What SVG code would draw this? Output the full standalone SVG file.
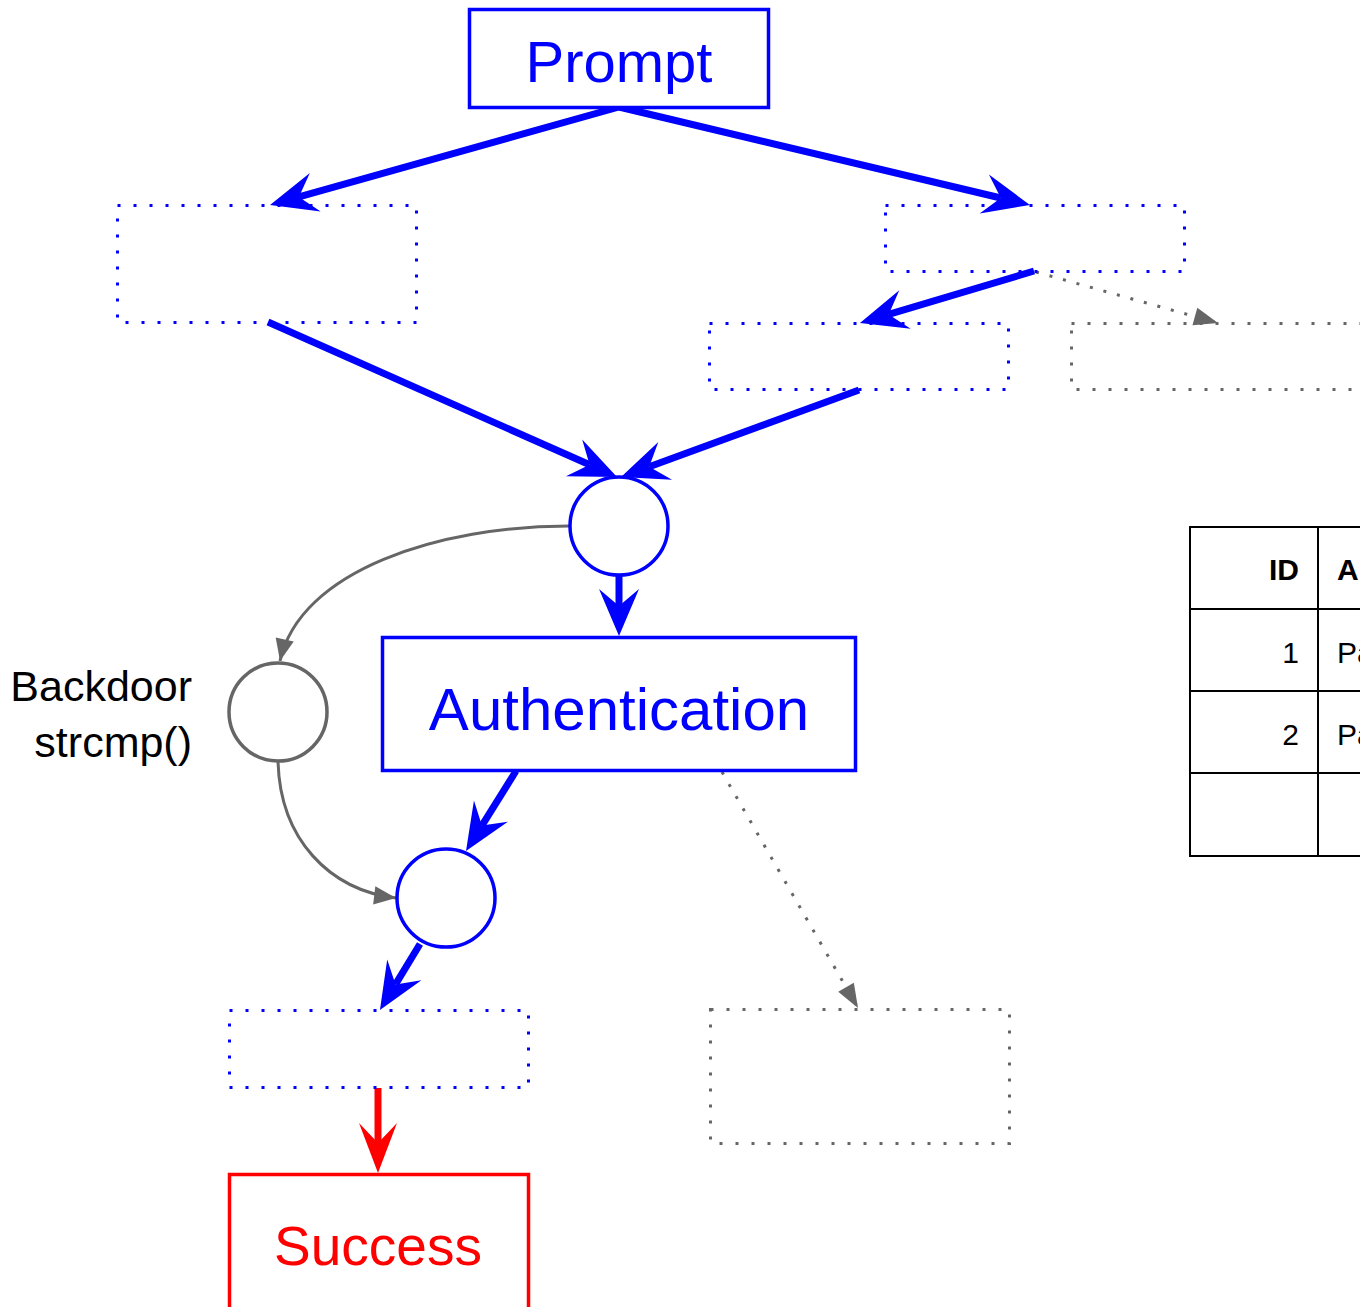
<svg xmlns="http://www.w3.org/2000/svg" width="1360" height="1307" viewBox="0 0 1360 1307">
  <style>
    .box { fill: #fff; stroke: #0000ff; stroke-width: 3.5; }
    .boxRed { fill: #fff; stroke: #ff0000; stroke-width: 3.5; }
    .dotBlue { fill: none; stroke: #0000ff; stroke-width: 3; stroke-dasharray: 3 13; }
    .dotGrey { fill: none; stroke: #666666; stroke-width: 3; stroke-dasharray: 3 13; }
    .circ { fill: #fff; stroke: #0000ff; stroke-width: 3.5; }
    .circGrey { fill: #fff; stroke: #666666; stroke-width: 3.5; }
    .lbl { font-family: "Liberation Sans", Arial, sans-serif; text-anchor: middle; }
    .side { font-family: "Liberation Sans", Arial, sans-serif; font-size: 43px; fill: #000; text-anchor: end; }
    .tbl { font-family: "Liberation Sans", Arial, sans-serif; font-size: 30px; fill: #000; }
    .flow { fill: none; stroke: #0000ff; stroke-width: 7; marker-end: url(#headBlue); }
    .flowRed { fill: none; stroke: #ff0000; stroke-width: 7; marker-end: url(#headRed); }
    .alt { fill: none; stroke: #666666; stroke-width: 3; stroke-dasharray: 3 11; marker-end: url(#headGrey); }
    .bypass { fill: none; stroke: #666666; stroke-width: 3; marker-end: url(#headGreySmall); }
    .grid { stroke: #000; stroke-width: 2; fill: none; }
  </style>
  <defs>
    <marker id="headBlue" markerUnits="userSpaceOnUse" orient="auto" markerWidth="60" markerHeight="60" viewBox="-20 -25 60 50" refX="0" refY="0" overflow="visible">
      <path d="M30,0 L-17,-20 L0,0 L-17,20 Z" fill="#0000ff"/>
    </marker>
    <marker id="headRed" markerUnits="userSpaceOnUse" orient="auto" markerWidth="60" markerHeight="60" viewBox="-20 -25 60 50" refX="0" refY="0" overflow="visible">
      <path d="M30,0 L-20,-19 L0,0 L-20,19 Z" fill="#ff0000"/>
    </marker>
    <marker id="headGrey" markerUnits="userSpaceOnUse" orient="auto" markerWidth="30" markerHeight="30" viewBox="-26 -10 30 20" refX="0" refY="0" overflow="visible">
      <path d="M0,0 L-24,-9 L-24,9 Z" fill="#666666"/>
    </marker>
    <marker id="headGreySmall" markerUnits="userSpaceOnUse" orient="auto" markerWidth="30" markerHeight="30" viewBox="-22 -10 26 20" refX="0" refY="0" overflow="visible">
      <path d="M0,0 L-19,-8 L-19,8 Z" fill="#666666"/>
    </marker>
  </defs>

  <rect width="1360" height="1307" fill="#fff"/>

  <!-- connectors -->
  <g id="connectors">
    <line class="flow" x1="619" y1="107" x2="298.9" y2="196.9"/>
    <line class="flow" x1="619" y1="107" x2="1000.8" y2="198"/>
    <line class="flow" x1="268" y1="322" x2="589.6" y2="464.8"/>
    <line class="flow" x1="859" y1="390" x2="649.2" y2="466.7"/>
    <line class="flow" x1="1034" y1="271" x2="888.7" y2="314.4"/>
    <line class="flow" x1="619" y1="575" x2="619" y2="606"/>
    <line class="flow" x1="516" y1="771" x2="481.9" y2="825.6"/>
    <line class="flow" x1="420" y1="944" x2="395.5" y2="984.4"/>
    <line class="flowRed" x1="378" y1="1088" x2="378" y2="1143"/>
    <line class="alt" x1="1036" y1="272" x2="1218" y2="323"/>
    <line class="alt" x1="722" y1="772" x2="858" y2="1008"/>
    <path class="bypass" d="M569,526 C440,526 300,570 280,661"/>
    <path class="bypass" d="M278,761 C280,840 330,890 396,898"/>
  </g>

  <!-- nodes -->
  <g id="prompt">
    <rect class="box" x="469.5" y="9.5" width="299" height="98"/>
    <text class="lbl" x="619" y="82" font-size="58" fill="#0000ff">Prompt</text>
  </g>
  <g id="branch-left">
    <rect class="dotBlue" x="117.5" y="205.5" width="299" height="117"/>
  </g>
  <g id="branch-right">
    <rect class="dotBlue" x="885.5" y="205.5" width="299" height="66"/>
  </g>
  <g id="branch-right-a">
    <rect class="dotBlue" x="709.5" y="323.5" width="299" height="66"/>
  </g>
  <g id="branch-right-b">
    <rect class="dotGrey" x="1071.5" y="323.5" width="299" height="66"/>
  </g>
  <g id="merge">
    <circle class="circ" cx="619" cy="526" r="49"/>
  </g>
  <g id="authentication">
    <rect class="box" x="382.5" y="637.5" width="473" height="133"/>
    <text class="lbl" x="619" y="730" font-size="60" fill="#0000ff">Authentication</text>
  </g>
  <g id="backdoor">
    <circle class="circGrey" cx="278" cy="712" r="49"/>
    <text class="side" x="192" y="701">Backdoor</text>
    <text class="side" x="192" y="757">strcmp()</text>
  </g>
  <g id="join">
    <circle class="circ" cx="446" cy="898" r="49"/>
  </g>
  <g id="granted">
    <rect class="dotBlue" x="229.5" y="1010.5" width="299" height="77"/>
  </g>
  <g id="denied">
    <rect class="dotGrey" x="710.5" y="1009.5" width="299" height="134"/>
  </g>
  <g id="success">
    <rect class="boxRed" x="229.5" y="1174.5" width="299" height="140"/>
    <text class="lbl" x="378" y="1265" font-size="55" fill="#ff0000">Success</text>
  </g>

  <!-- lookup table -->
  <g id="table">
    <rect class="grid" x="1190" y="527" width="200" height="329"/>
    <line class="grid" x1="1318" y1="527" x2="1318" y2="856"/>
    <line class="grid" x1="1190" y1="609" x2="1360" y2="609"/>
    <line class="grid" x1="1190" y1="691" x2="1360" y2="691"/>
    <line class="grid" x1="1190" y1="773" x2="1360" y2="773"/>
    <text class="tbl" x="1299" y="580" text-anchor="end" font-weight="bold">ID</text>
    <text class="tbl" x="1337" y="580" font-weight="bold">A</text>
    <text class="tbl" x="1299" y="663" text-anchor="end">1</text>
    <text class="tbl" x="1337" y="663">Pa</text>
    <text class="tbl" x="1299" y="745" text-anchor="end">2</text>
    <text class="tbl" x="1337" y="745">Pa</text>
  </g>
</svg>
